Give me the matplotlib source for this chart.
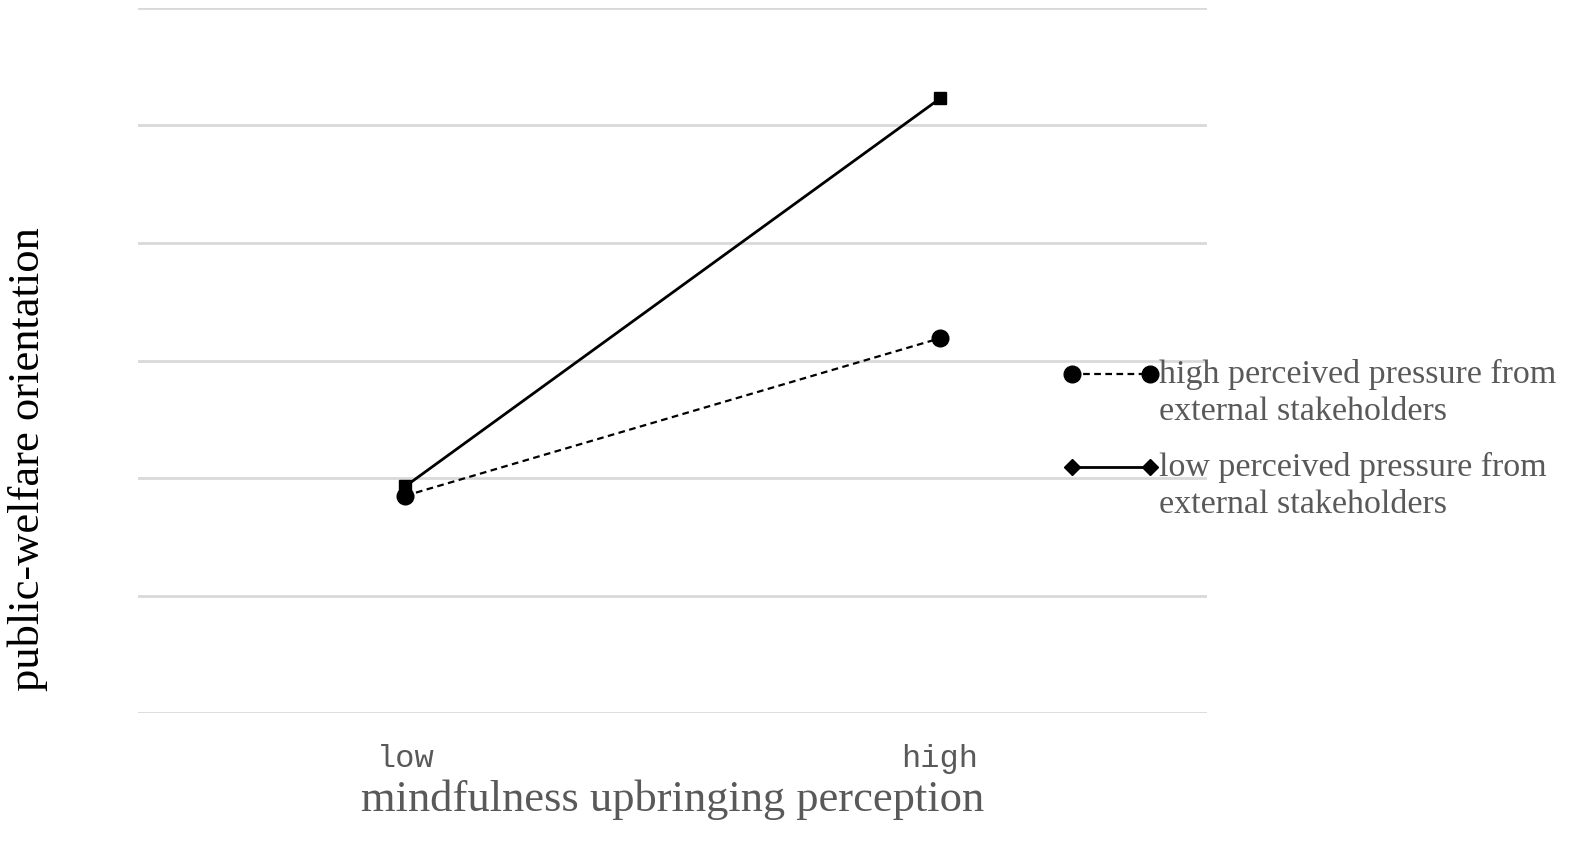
import matplotlib.pyplot as plt
from matplotlib.lines import Line2D

# data
categories = ["low", "high"]
high_pressure = [1.85, 3.19]   # dashed, circles
low_pressure = [1.93, 5.23]    # solid, squares
label_high = ["high perceived pressure from", "external stakeholders"]
label_low = ["low perceived pressure from", "external stakeholders"]

grey = "#595959"
serif = ["Liberation Serif", "DejaVu Serif"]

fig = plt.figure(figsize=(15.95, 8.47), dpi=100)
ax = fig.add_axes([0.0865, 0.158, 0.6705, 0.8326])

x = list(range(len(categories)))
ax.plot(x, low_pressure, color="black", lw=2, marker="s", ms=8, zorder=3)
ax.plot(x, high_pressure, color="black", lw=1.6, ls=(0, (3, 2)), marker="o", ms=12, zorder=3)

ax.set_xlim(-0.5, 1.5)
ax.set_ylim(0, 6)
ax.set_yticks(range(0, 7))
ax.set_yticklabels([])
ax.set_xticks(x)
ax.set_xticklabels(categories, family=["Liberation Mono"], fontsize=23, color=grey)
ax.tick_params(axis="both", length=0)
ax.tick_params(axis="x", pad=22)
ax.grid(axis="y", color="#d9d9d9", lw=2)
ax.set_axisbelow(True)
for s in ax.spines.values():
    s.set_visible(False)

ax.set_xlabel("mindfulness upbringing perception", family=serif, fontsize=32, color=grey, labelpad=4)
ax.set_ylabel("public-welfare orientation", family=serif, fontsize=32, color="black")
ax.yaxis.set_label_coords(-0.084, 0.36)

# legend drawn by hand so the keys sit on the first text line
W, H = 1595, 847
def key(y_px, ls, marker, ms, lines):
    fig.add_artist(Line2D([1072 / W, 1150 / W], [1 - y_px / H] * 2, color="black",
                          lw=1.6 if ls != "-" else 2, ls=ls, marker=marker, ms=ms,
                          transform=fig.transFigure))
    for i, t in enumerate(lines):
        fig.text(1159 / W, 1 - (y_px + 38 * i) / H, t, family=serif, fontsize=24.5,
                 color=grey, va="center", ha="left")

key(374, (0, (3, 2)), "o", 12, label_high)
key(467, "-", "D", 8, label_low)

fig.savefig("out.png", dpi=100)
